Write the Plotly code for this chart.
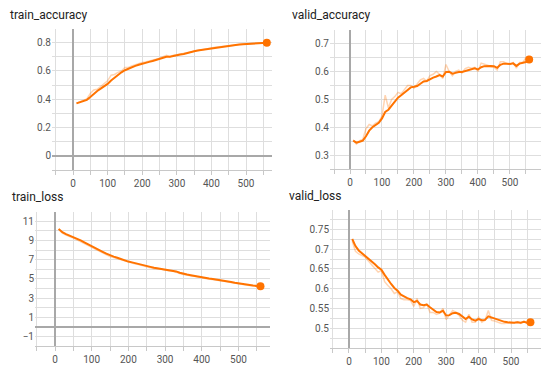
import plotly.graph_objects as go

steps = [10, 20, 30, 40, 50, 60, 70, 80, 90, 100, 110, 120, 130, 140, 150, 160, 170, 180, 190, 200,
         210, 220, 230, 240, 250, 260, 270, 280, 290, 300, 310, 320, 330, 340, 350, 360, 370, 380, 390, 400,
         410, 420, 430, 440, 450, 460, 470, 480, 490, 500, 510, 520, 530, 540, 550, 560]

train_acc_smooth = [0.370, 0.378, 0.386, 0.395, 0.415, 0.440, 0.458, 0.474, 0.490, 0.508, 0.532, 0.553, 0.572, 0.590,
                    0.605, 0.617, 0.627, 0.636, 0.644, 0.652, 0.658, 0.664, 0.670, 0.677, 0.684, 0.692, 0.700, 0.700,
                    0.707, 0.712, 0.716, 0.720, 0.728, 0.734, 0.739, 0.744, 0.748, 0.752, 0.756, 0.760, 0.764, 0.768,
                    0.771, 0.774, 0.777, 0.781, 0.784, 0.787, 0.789, 0.791, 0.793, 0.795, 0.796, 0.797, 0.798, 0.800]
train_acc_raw = [0.372, 0.382, 0.392, 0.402, 0.44, 0.465, 0.47, 0.49, 0.505, 0.53, 0.57, 0.575, 0.59, 0.60, 0.625,
                 0.625, 0.635, 0.645, 0.65, 0.66, 0.663, 0.668, 0.676, 0.683, 0.69, 0.698, 0.71, 0.70, 0.712, 0.715,
                 0.72, 0.723, 0.733, 0.738, 0.742, 0.748, 0.75, 0.755, 0.759, 0.763, 0.767, 0.77, 0.773, 0.777, 0.78,
                 0.784, 0.786, 0.789, 0.791, 0.793, 0.795, 0.797, 0.797, 0.798, 0.799, 0.801]

valid_acc_smooth = [0.352, 0.345, 0.348, 0.352, 0.368, 0.388, 0.400, 0.409, 0.416, 0.432, 0.455, 0.463, 0.478, 0.492,
                    0.506, 0.515, 0.524, 0.535, 0.543, 0.545, 0.548, 0.556, 0.564, 0.566, 0.573, 0.578, 0.582, 0.587,
                    0.582, 0.598, 0.599, 0.592, 0.595, 0.598, 0.598, 0.601, 0.606, 0.609, 0.611, 0.607, 0.615, 0.619,
                    0.620, 0.620, 0.619, 0.613, 0.624, 0.628, 0.628, 0.627, 0.629, 0.620, 0.628, 0.630, 0.634, 0.643]
valid_acc_raw = [0.355, 0.340, 0.352, 0.356, 0.395, 0.41, 0.405, 0.415, 0.42, 0.44, 0.515, 0.47, 0.50, 0.51, 0.525,
                 0.52, 0.535, 0.55, 0.55, 0.54, 0.555, 0.57, 0.575, 0.565, 0.585, 0.59, 0.60, 0.59, 0.575, 0.625,
                 0.60, 0.585, 0.60, 0.605, 0.595, 0.61, 0.615, 0.612, 0.615, 0.600, 0.63, 0.625, 0.622, 0.618, 0.615,
                 0.605, 0.635, 0.635, 0.628, 0.625, 0.632, 0.612, 0.632, 0.632, 0.65, 0.655]

train_loss_smooth = [10.20, 9.85, 9.65, 9.50, 9.38, 9.20, 9.00, 8.80, 8.62, 8.43, 8.22, 8.00, 7.82, 7.62, 7.45, 7.32,
                     7.20, 7.05, 6.92, 6.80, 6.72, 6.64, 6.55, 6.45, 6.35, 6.25, 6.15, 6.10, 6.05, 5.98, 5.90, 5.88,
                     5.78, 5.64, 5.52, 5.45, 5.38, 5.30, 5.22, 5.18, 5.10, 5.04, 4.98, 4.93, 4.88, 4.83, 4.75, 4.68,
                     4.60, 4.53, 4.46, 4.40, 4.35, 4.31, 4.27, 4.24]
train_loss_raw = [10.15, 9.75, 9.55, 9.42, 9.25, 9.05, 8.85, 8.65, 8.45, 8.28, 8.05, 7.85, 7.65, 7.48, 7.32, 7.22,
                  7.10, 6.95, 6.82, 6.72, 6.65, 6.56, 6.46, 6.36, 6.26, 6.16, 6.06, 6.08, 5.98, 5.90, 5.84, 5.84,
                  5.68, 5.55, 5.45, 5.40, 5.32, 5.24, 5.18, 5.14, 5.05, 5.00, 4.94, 4.90, 4.84, 4.78, 4.70, 4.62,
                  4.55, 4.48, 4.42, 4.36, 4.32, 4.28, 4.25, 4.22]

valid_loss_smooth = [0.726, 0.708, 0.697, 0.690, 0.685, 0.678, 0.670, 0.662, 0.654, 0.648, 0.635, 0.622, 0.612, 0.602,
                     0.595, 0.585, 0.580, 0.576, 0.573, 0.566, 0.569, 0.560, 0.558, 0.560, 0.553, 0.547, 0.541, 0.540,
                     0.544, 0.532, 0.533, 0.538, 0.539, 0.536, 0.530, 0.523, 0.529, 0.522, 0.519, 0.523, 0.520, 0.521,
                     0.530, 0.527, 0.524, 0.522, 0.518, 0.516, 0.515, 0.514, 0.514, 0.515, 0.514, 0.516, 0.514, 0.515]
valid_loss_raw = [0.720, 0.695, 0.688, 0.684, 0.680, 0.670, 0.660, 0.652, 0.642, 0.646, 0.618, 0.608, 0.600, 0.588,
                  0.592, 0.575, 0.572, 0.572, 0.570, 0.555, 0.575, 0.550, 0.552, 0.562, 0.540, 0.540, 0.535, 0.538,
                  0.550, 0.522, 0.533, 0.545, 0.540, 0.532, 0.520, 0.515, 0.535, 0.515, 0.515, 0.528, 0.515, 0.520,
                  0.545, 0.520, 0.518, 0.515, 0.512, 0.512, 0.513, 0.512, 0.515, 0.516, 0.512, 0.518, 0.512, 0.516]

titles = ["train_accuracy", "valid_accuracy", "train_loss", "valid_loss"]
x_ticks = [0, 100, 200, 300, 400, 500]
y_ticks_train_acc = [0, 0.2, 0.4, 0.6, 0.8]
y_ticks_valid_acc = [0.3, 0.4, 0.5, 0.6, 0.7]
y_ticks_train_loss = [-1, 1, 3, 5, 7, 9, 11]
y_ticks_valid_loss = [0.5, 0.55, 0.6, 0.65, 0.7, 0.75]

W, H = 541, 367
ORANGE = "#ff7300"
GRID = "#dedede"
ZERO = "#a8a8a8"
TICKC = "#555555"

panels = [
    dict(smooth=train_acc_smooth, raw=train_acc_raw, xdom=(52, 272), ydom=(29, 172),
         xr=(-60.7, 575), yr=(-0.1, 0.9), yt=y_ticks_train_acc, ymin=0.1, title_xy=(8, 15)),
    dict(smooth=valid_acc_smooth, raw=valid_acc_raw, xdom=(330, 541), ydom=(30, 171.5),
         xr=(-62.5, 597), yr=(0.25, 0.75), yt=y_ticks_valid_acc, ymin=0.05, title_xy=(290, 15)),
    dict(smooth=train_loss_smooth, raw=train_loss_raw, xdom=(35, 270), ydom=(214.5, 351),
         xr=(-54.5, 586), yr=(-2, 12), yt=y_ticks_train_loss, ymin=1, title_xy=(10, 200)),
    dict(smooth=valid_loss_smooth, raw=valid_loss_raw, xdom=(330, 541), ydom=(212.7, 352.7),
         xr=(-58.6, 592.6), yr=(0.45, 0.8), yt=y_ticks_valid_loss, ymin=0.025, title_xy=(287, 199)),
]

fig = go.Figure()
layout = dict(width=W, height=H, margin=dict(l=0, r=0, t=0, b=0), paper_bgcolor="white",
              plot_bgcolor="white", showlegend=False, font=dict(family="Roboto", size=10, color=TICKC))
annotations = []
for i, p in enumerate(panels):
    n = "" if i == 0 else str(i + 1)
    xa, ya = "x" + n, "y" + n
    fig.add_trace(go.Scatter(x=steps, y=p["raw"], mode="lines", xaxis=xa, yaxis=ya,
                             line=dict(color=ORANGE, width=1.5), opacity=0.3, hoverinfo="skip"))
    fig.add_trace(go.Scatter(x=steps, y=p["smooth"], mode="lines", xaxis=xa, yaxis=ya,
                             line=dict(color=ORANGE, width=2)))
    fig.add_trace(go.Scatter(x=[steps[-1]], y=[p["smooth"][-1]], mode="markers", xaxis=xa, yaxis=ya,
                             marker=dict(color=ORANGE, size=8)))
    x0, x1 = p["xdom"]
    t0, t1 = p["ydom"]
    layout["xaxis" + n] = dict(domain=[x0 / W, x1 / W], range=list(p["xr"]), anchor=ya,
                               tickmode="array", tickvals=x_ticks, showgrid=True, gridcolor=GRID,
                               zeroline=True, zerolinecolor=ZERO, zerolinewidth=1.5,
                               showline=True, linecolor="#c8c8c8", linewidth=1,
                               ticks="outside", ticklen=4, tickcolor="#c8c8c8",
                               minor=dict(dtick=50, tick0=0, showgrid=True, gridcolor=GRID,
                                          ticks="outside", ticklen=4, tickcolor="#c8c8c8"),
                               tickfont=dict(size=10, color=TICKC), fixedrange=True)
    yt = p["yt"]
    layout["yaxis" + n] = dict(domain=[1 - t1 / H, 1 - t0 / H], range=list(p["yr"]), anchor=xa,
                               tickmode="array", tickvals=yt, showgrid=True, gridcolor=GRID,
                               zeroline=True, zerolinecolor=ZERO, zerolinewidth=1.5,
                               showline=False, ticks="",
                               minor=dict(dtick=p["ymin"], tick0=yt[0], showgrid=True, gridcolor=GRID),
                               tickfont=dict(size=10, color=TICKC), fixedrange=True)
    tx, ty = p["title_xy"]
    annotations.append(dict(text=titles[i], x=tx / W, y=1 - ty / H, xref="paper", yref="paper",
                            xanchor="left", yanchor="middle", showarrow=False,
                            font=dict(family="Roboto", size=12, color="#212121")))
layout["annotations"] = annotations
fig.update_layout(**layout)
fig.write_html("out.html")
